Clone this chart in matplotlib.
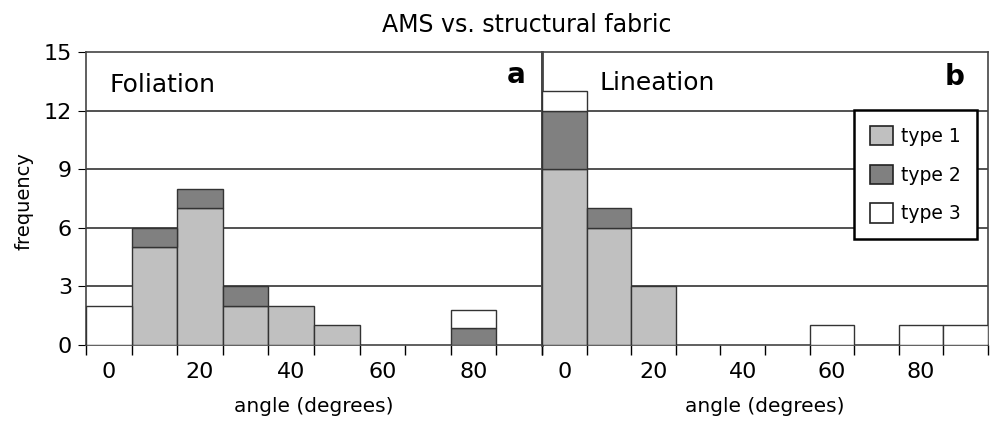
import numpy as np
import matplotlib.pyplot as plt
from matplotlib.patches import Patch

# bin centres (degrees), same for both panels
bins = [0, 10, 20, 30, 40, 50, 60, 70, 80, 90]

# Foliation (panel a)
fol_type1 = [0, 5, 7, 2, 2, 1, 0, 0, 0, 0]
fol_type2 = [0, 1, 1, 1, 0, 0, 0, 0, 0.85, 0]
fol_type3 = [2, 0, 0, 0, 0, 0, 0, 0, 0.95, 0]

# Lineation (panel b)
lin_type1 = [9, 6, 3, 0, 0, 0, 0, 0, 0, 0]
lin_type2 = [3, 1, 0, 0, 0, 0, 0, 0, 0, 0]
lin_type3 = [1, 0, 0, 0, 0, 0, 1, 0, 1, 1]

tick_labels = [0, 20, 40, 60, 80]
yticks = [0, 3, 6, 9, 12, 15]

c1 = '#c0c0c0'
c2 = '#808080'
c3 = '#ffffff'
edge = '#333333'
fs = 16

fig = plt.figure(figsize=(9.9, 4.23), dpi=100)
axl = fig.add_axes([86/990, 1-345/423, (542-86)/990, (345-52)/423])
axr = fig.add_axes([542/990, 1-345/423, (988-542)/990, (345-52)/423])

def panel(ax, t1, t2, t3):
    x = np.array(bins)
    t1 = np.array(t1, float); t2 = np.array(t2, float); t3 = np.array(t3, float)
    for vals, bot, col in [(t1, 0, c1), (t2, t1, c2), (t3, t1+t2, c3)]:
        m = vals > 0
        ax.bar(x[m], vals[m], width=10, bottom=np.broadcast_to(bot, x.shape)[m],
               color=col, edgecolor=edge, linewidth=1, zorder=3)
    ax.set_xlim(-5, 95)
    ax.set_ylim(0, 15)
    for y in yticks[1:-1]:
        ax.axhline(y, color='#222222', lw=1.1, zorder=1)
    ax.set_xticks(np.arange(-5, 96, 10))
    ax.set_xticklabels([])
    ax.tick_params(axis='x', which='major', length=7, direction='out', width=1)
    ax.set_xticks(tick_labels, minor=True)
    ax.set_xticklabels([str(t) for t in tick_labels], minor=True, fontsize=fs)
    ax.tick_params(axis='x', which='minor', length=0, pad=12)
    ax.set_xlabel('angle (degrees)', fontsize=14.5)
    ax.xaxis.set_label_coords(0.5, -(397-345)/293)
    for s in ax.spines.values():
        s.set_color('#444444')
        s.set_linewidth(1.2)

panel(axl, fol_type1, fol_type2, fol_type3)
panel(axr, lin_type1, lin_type2, lin_type3)

axl.set_yticks(yticks)
axl.set_yticklabels([str(v) for v in yticks], fontsize=fs)
axl.tick_params(axis='y', length=6, direction='out', pad=4)
axr.set_yticks([])
axr.spines['left'].set_linewidth(2)
fig.text(24/990, 1-201/423, 'frequency', rotation=90, fontsize=14, ha='center', va='center')

axl.text(0.0526, 0.863, 'Foliation', transform=axl.transAxes, fontsize=18, va='baseline')
axl.text(0.963, 0.894, 'a', transform=axl.transAxes, fontsize=20, fontweight='bold', ha='right', va='baseline')
axr.text(0.130, 0.87, 'Lineation', transform=axr.transAxes, fontsize=18, va='baseline')
axr.text(0.948, 0.887, 'b', transform=axr.transAxes, fontsize=20, fontweight='bold', ha='right', va='baseline')

handles = [Patch(facecolor=c, edgecolor='#222222', linewidth=1.2, label=l)
           for c, l in [(c1, 'type 1'), (c2, 'type 2'), (c3, 'type 3')]]
leg = axr.legend(handles=handles, loc='upper right', bbox_to_anchor=(0.975, 0.802), fontsize=13.5,
                 frameon=True, fancybox=False, edgecolor='black', framealpha=1,
                 handlelength=1.2, handleheight=1.2, labelspacing=1.0, borderpad=0.85,
                 handletextpad=0.45, borderaxespad=0)
leg.get_frame().set_linewidth(1.8)

fig.text(0.532, 1-32/423, 'AMS vs. structural fabric', ha='center', va='baseline', fontsize=17)

fig.savefig('out.png', dpi=100)
